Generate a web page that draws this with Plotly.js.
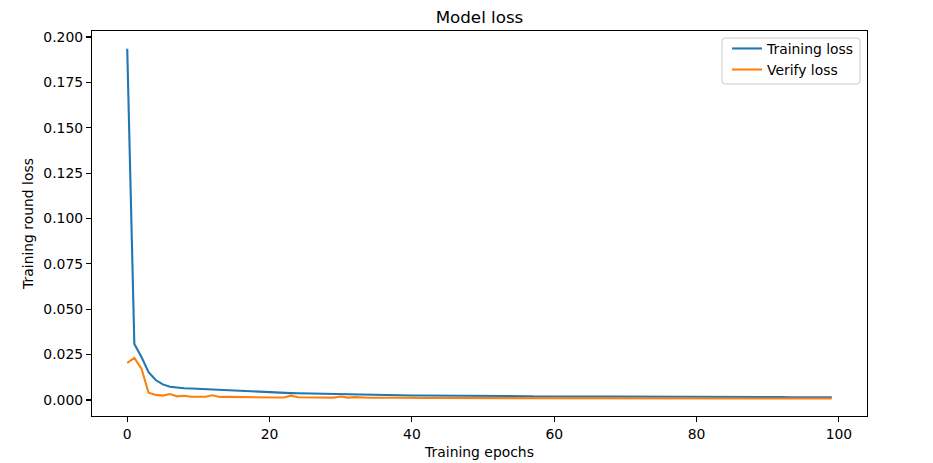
<!DOCTYPE html>
<html>
<head>
<meta charset="utf-8">
<script src="https://cdn.plot.ly/plotly-3.0.1.min.js"></script>
<style>html,body{margin:0;padding:0;background:#fff;}#chart{width:933px;height:463px;}</style>
</head>
<body>
<div id="chart"></div>
<script>
const epochs = Array.from({length: 100}, (_, i) => i);
const trainingLoss = [
  0.1935, 0.0309, 0.0237, 0.0153, 0.0110, 0.0086, 0.0073, 0.0068, 0.0065, 0.0063,
  0.0061, 0.0059, 0.0057, 0.0055, 0.0053, 0.0050, 0.0048, 0.0046, 0.0045, 0.0043,
  0.0041, 0.0040, 0.0039, 0.0038, 0.0037, 0.0036, 0.0035, 0.0034, 0.0033, 0.0032,
  0.0031, 0.0030, 0.0030, 0.0029, 0.0028, 0.0028, 0.0027, 0.0027, 0.0026, 0.0026,
  0.0025, 0.0025, 0.0025, 0.0024, 0.0024, 0.0024, 0.0023, 0.0023, 0.0023, 0.0022,
  0.0022, 0.0022, 0.0022, 0.0021, 0.0021, 0.0021, 0.0021, 0.0020, 0.0020, 0.0020,
  0.0020, 0.0020, 0.0019, 0.0019, 0.0019, 0.0019, 0.0019, 0.0019, 0.0018, 0.0018,
  0.0018, 0.0018, 0.0018, 0.0018, 0.0018, 0.0017, 0.0017, 0.0017, 0.0017, 0.0017,
  0.0017, 0.0017, 0.0017, 0.0016, 0.0016, 0.0016, 0.0016, 0.0016, 0.0016, 0.0016,
  0.0016, 0.0016, 0.0016, 0.0015, 0.0015, 0.0015, 0.0015, 0.0015, 0.0015, 0.0015
];
const verifyLoss = [
  0.0205, 0.0232, 0.0172, 0.0040, 0.0028, 0.0024, 0.0033, 0.0020, 0.0023, 0.0018,
  0.0018, 0.0018, 0.0026, 0.0017, 0.0017, 0.0016, 0.0017, 0.0015, 0.0016, 0.0015,
  0.0014, 0.0014, 0.0014, 0.0024, 0.0015, 0.0014, 0.0014, 0.0013, 0.0013, 0.0013,
  0.0019, 0.0013, 0.0016, 0.0013, 0.0012, 0.0012, 0.0014, 0.0012, 0.0012, 0.0011,
  0.0011, 0.0011, 0.0011, 0.0011, 0.0011, 0.0010, 0.0010, 0.0010, 0.0010, 0.0010,
  0.0010, 0.0010, 0.0010, 0.0010, 0.0009, 0.0009, 0.0009, 0.0009, 0.0009, 0.0009,
  0.0009, 0.0009, 0.0009, 0.0009, 0.0009, 0.0009, 0.0009, 0.0008, 0.0008, 0.0008,
  0.0008, 0.0008, 0.0008, 0.0008, 0.0008, 0.0008, 0.0008, 0.0008, 0.0008, 0.0008,
  0.0008, 0.0008, 0.0008, 0.0008, 0.0008, 0.0008, 0.0008, 0.0008, 0.0008, 0.0008,
  0.0008, 0.0008, 0.0008, 0.0008, 0.0008, 0.0008, 0.0008, 0.0008, 0.0008, 0.0008
];
const seriesNames = ["Training loss", "Verify loss"];
const xTicks = [0, 20, 40, 60, 80, 100];
const yTicks = [0, 0.025, 0.05, 0.075, 0.1, 0.125, 0.15, 0.175, 0.2];

const font = {family: "DejaVu Sans", size: 13.9, color: "#000"};
const traces = [
  {x: epochs, y: trainingLoss, name: seriesNames[0], type: "scatter", mode: "lines",
   line: {color: "#1f77b4", width: 2.1}},
  {x: epochs, y: verifyLoss, name: seriesNames[1], type: "scatter", mode: "lines",
   line: {color: "#ff7f0e", width: 2.1}}
];
const axisCommon = {
  showgrid: false, zeroline: false, showline: true, linecolor: "#000", linewidth: 1.1,
  mirror: true, ticks: "outside", ticklen: 5, tickwidth: 1.1, tickcolor: "#000",
  tickfont: font
};
// legend frame (rounded rectangle in paper coordinates)
const lx0 = 0.8129, lx1 = 0.991, ly0 = 0.8623, ly1 = 0.9818, rx = 0.004, ry = 0.008;
const legendFrame = `M ${lx0+rx},${ly1} L ${lx1-rx},${ly1} Q ${lx1},${ly1} ${lx1},${ly1-ry} ` +
  `L ${lx1},${ly0+ry} Q ${lx1},${ly0} ${lx1-rx},${ly0} L ${lx0+rx},${ly0} Q ${lx0},${ly0} ${lx0},${ly0+ry} ` +
  `L ${lx0},${ly1-ry} Q ${lx0},${ly1} ${lx0+rx},${ly1} Z`;
const layout = {
  width: 933, height: 463,
  margin: {l: 92, r: 66, t: 31, b: 47},
  paper_bgcolor: "#fff", plot_bgcolor: "#fff",
  font: font,
  title: {text: "Model loss", font: {family: "DejaVu Sans", size: 16.7, color: "#000"},
          x: 0.5, xref: "paper", xanchor: "center", y: 1 - 17/463, yref: "container", yanchor: "middle"},
  xaxis: Object.assign({}, axisCommon, {
    range: [-4.95, 103.95], tickvals: xTicks, ticktext: xTicks.map(String),
    title: {text: "Training epochs", font: font, standoff: 6}
  }),
  yaxis: Object.assign({}, axisCommon, {
    range: [-0.00882, 0.2033], tickvals: yTicks, ticktext: yTicks.map(v => v.toFixed(3)),
    title: {text: "Training round loss", font: font, standoff: 6}
  }),
  legend: {x: 0.991, y: 0.995, xanchor: "right", yanchor: "top",
           borderwidth: 0, bgcolor: "rgba(0,0,0,0)",
           font: font, tracegroupgap: 0},
  shapes: [{type: "path", xref: "paper", yref: "paper", path: legendFrame,
            line: {color: "#cccccc", width: 1}, fillcolor: "rgba(255,255,255,0.8)", layer: "below"}],
  showlegend: true
};
Plotly.newPlot("chart", traces, layout, {displayModeBar: false, staticPlot: true});
</script>
</body>
</html>
